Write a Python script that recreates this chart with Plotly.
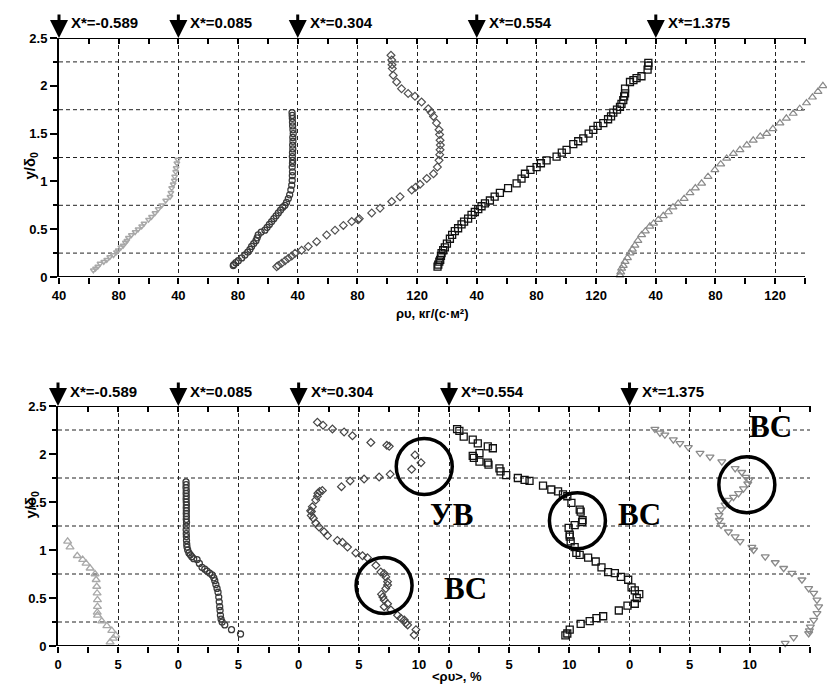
import plotly.graph_objects as go

# ---------------- data ----------------
X_STAR = ["-0.589", "0.085", "0.304", "0.554", "1.375"]

# top panel: rho*u, kg/(s*m^2) ; offsets of each profile on the shared axis
TOP_OFF = [0, 80, 160, 280, 400]
TOP_LABELS = [[40, 80], [40, 80], [40, 80, 120], [40, 80, 120], [40, 80, 120]]
TOP_END = 500          # end of the drawn axis (shared-axis units)
# bottom panel: <rho*u>, %
BOT_OFF = [0, 10, 20, 32.5, 47.5]
BOT_LABELS = [[0, 5], [0, 5], [0, 5, 10], [0, 5, 10], [0, 5, 10]]
BOT_END = 62.5
Y_GRID = [0.25, 0.75, 1.25, 1.75, 2.25]

# ---- top series ----
y1t = [0.07, 0.09, 0.11, 0.14, 0.16, 0.18, 0.21, 0.23, 0.26, 0.28, 0.31, 0.33, 0.36, 0.38, 0.41, 0.44, 0.47,
       0.50, 0.53, 0.56, 0.60, 0.63, 0.67, 0.71, 0.75, 0.80, 0.84, 0.88, 0.93, 0.97, 1.01, 1.05, 1.10, 1.14,
       1.19, 1.23]
v1t = [63, 64.5, 66, 67.5, 70, 72, 74, 76.5, 78.5, 79.7, 81.5, 83, 84.5, 85.5, 86.5, 88.5, 91, 93, 95.4, 97,
       100, 102, 104.3, 106.5, 108.8, 111.5, 114.4, 115, 115.5, 116.5, 117.3, 117.5, 118.2, 118.5, 119, 119.5]

y2t = [0.12, 0.13, 0.15, 0.17, 0.20, 0.23, 0.26, 0.29, 0.32, 0.35, 0.38, 0.41, 0.44, 0.47, 0.49, 0.52, 0.55,
       0.58, 0.61, 0.64, 0.67, 0.70, 0.73, 0.75, 0.78, 0.82, 0.86, 0.91, 0.96, 1.01, 1.06, 1.10, 1.15, 1.19,
       1.22, 1.26, 1.30, 1.34, 1.38, 1.42, 1.46, 1.50, 1.54, 1.58, 1.62, 1.66, 1.69, 1.72]
v2t = [76.8, 77.2, 78.5, 80.2, 82.5, 84.6, 86.5, 88, 89.1, 90.5, 92, 92.8, 93.5, 95.5, 98, 99.5, 101, 102.5,
       104, 105.5, 107, 108.5, 110, 111.4, 112.5, 113.7, 114.6, 115.4, 116, 116.3, 116.4, 116.5, 116.3, 116.5,
       116.6, 116.4, 116.5, 116.7, 116.6, 116.8, 116.7, 117, 116.8, 116.6, 116.5, 116.4, 116.3, 116.2]

y3t = [0.108, 0.12, 0.143, 0.17, 0.195, 0.22, 0.248, 0.28, 0.32, 0.37, 0.44, 0.49, 0.54, 0.58, 0.60, 0.61,
       0.67, 0.72, 0.79, 0.84, 0.91, 0.94, 0.97, 1.03, 1.08, 1.15, 1.22, 1.28, 1.33, 1.38, 1.43, 1.49, 1.54,
       1.61, 1.68, 1.72, 1.76, 1.83, 1.89, 1.92, 1.97, 2.04, 2.11, 2.18, 2.22, 2.27, 2.32]
v3t = [25.9, 27, 29.2, 31.5, 33.7, 36, 38.2, 42.6, 47.1, 52.7, 59.4, 65, 70.6, 76.2, 80.5, 81.3, 89.6, 95.2,
       103, 108.6, 116.4, 119, 122, 126.5, 131, 133.6, 134.7, 135.2, 135.4, 135.6, 135.4, 135.1, 134.7, 133,
       131, 129.5, 127.5, 123, 118.6, 114, 109.6, 106.3, 104, 103.4, 103.2, 103, 102.5]

y4t = [0.108, 0.13, 0.16, 0.18, 0.22, 0.25, 0.28, 0.31, 0.35, 0.40, 0.44, 0.48, 0.51, 0.55, 0.58, 0.61, 0.65,
       0.68, 0.71, 0.74, 0.77, 0.80, 0.84, 0.88, 0.93, 0.98, 1.03, 1.08, 1.12, 1.15, 1.19, 1.22, 1.26, 1.30,
       1.33, 1.39, 1.42, 1.45, 1.50, 1.54, 1.58, 1.61, 1.65, 1.68, 1.72, 1.75, 1.78, 1.81, 1.85, 1.89, 1.92,
       1.97, 2.04, 2.06, 2.08, 2.10, 2.17, 2.21, 2.24]
v4t = [13.7, 14.2, 14.9, 15.5, 16, 16.4, 17.5, 18.6, 20, 22, 23.5, 25.3, 27.5, 29.8, 31.5, 34.2, 36.5, 38.7,
       41, 43.2, 45.5, 48.8, 52, 55.5, 61, 66.7, 70, 72.3, 76, 80.1, 83, 86.8, 93.5, 97, 100.2, 104.7, 108,
       111.4, 115, 118.1, 121, 124.8, 128, 130, 131.5, 134, 136, 137, 138.2, 138.8, 139.4, 139.4, 142.7, 145,
       147.1, 150.4, 154.5, 155, 155]

y5t = [0.02, 0.05, 0.09, 0.12, 0.16, 0.20, 0.25, 0.29, 0.33, 0.38, 0.44, 0.48, 0.53, 0.56, 0.60, 0.64, 0.68,
       0.73, 0.77, 0.82, 0.88, 0.93, 0.98, 1.05, 1.12, 1.18, 1.24, 1.29, 1.33, 1.38, 1.43, 1.47, 1.50, 1.55,
       1.61, 1.66, 1.71, 1.76, 1.82, 1.88, 1.94, 2.00, 2.06]
v5t = [16, 16.5, 17.1, 18.2, 19.4, 21, 22.7, 24.3, 26, 28, 30.5, 33, 36, 38.5, 41.7, 45, 48.4, 51.5, 55, 59,
       62.9, 66.5, 70.7, 75, 79.6, 83.5, 87.5, 92, 96.4, 101, 105.3, 110, 114.3, 118.5, 123.2, 127.5, 132.1,
       136.5, 141, 145, 148.7, 152, 155]

# ---- bottom series ----
y1b = [1.09, 1.03, 0.94, 0.90, 0.86, 0.81, 0.75, 0.69, 0.62, 0.55, 0.48, 0.41, 0.35, 0.32, 0.26, 0.21, 0.16,
       0.11, 0.08, 0.04]
v1b = [0.8, 1.0, 1.6, 2.05, 2.33, 2.67, 3.08, 3.17, 3.22, 3.25, 3.28, 3.28, 3.26, 3.28, 3.64, 4.06, 4.47,
       4.8, 4.6, 4.33]

y2b = [1.71, 1.68, 1.65, 1.62, 1.59, 1.56, 1.53, 1.50, 1.47, 1.44, 1.41, 1.38, 1.35, 1.32, 1.29, 1.25, 1.21,
       1.17, 1.14, 1.10, 1.06, 1.03, 1.00, 0.97, 0.95, 0.93, 0.91, 0.90, 0.86, 0.82, 0.80, 0.78, 0.76, 0.74,
       0.71, 0.68, 0.64, 0.60, 0.56, 0.51, 0.46, 0.41, 0.37, 0.32, 0.28, 0.25, 0.22, 0.17, 0.125]
v2b = [0.64, 0.65, 0.64, 0.66, 0.65, 0.66, 0.65, 0.66, 0.67, 0.66, 0.67, 0.66, 0.67, 0.66, 0.68, 0.66, 0.65,
       0.66, 0.67, 0.68, 0.70, 0.72, 0.78, 0.88, 1.0, 1.12, 1.28, 1.56, 1.75, 1.97, 2.2, 2.39, 2.6, 2.81,
       2.95, 3.03, 3.12, 3.22, 3.3, 3.36, 3.4, 3.44, 3.47, 3.5, 3.55, 3.64, 3.86, 4.42, 5.17]

y3b = [0.115, 0.17, 0.22, 0.24, 0.27, 0.29, 0.32, 0.375, 0.41, 0.44, 0.48, 0.51, 0.54, 0.60, 0.635, 0.67,
       0.72, 0.755, 0.77, 0.84, 0.92, 0.94, 0.97, 1.03, 1.08, 1.10, 1.15, 1.19, 1.24, 1.28, 1.33, 1.36, 1.40,
       1.41, 1.45, 1.52, 1.56, 1.59, 1.61, 1.62, 1.66, 1.72, 1.74, 1.76, 1.79, 1.84, 1.91, 1.99, 2.08, 2.09,
       2.12, 2.19, 2.23, 2.26, 2.30, 2.33]
v3b = [9.6, 9.75, 9.06, 8.9, 8.78, 8.5, 8.22, 7.67, 7.11, 7.39, 7.11, 7.0, 6.89, 7.25, 7.39, 7.39, 7.25, 7.1,
       6.83, 6.42, 5.72, 5.31, 4.75, 4.06, 3.64, 3.22, 2.39, 2.11, 1.69, 1.42, 1.22, 1.05, 1.06, 1.0, 1.14,
       1.42, 1.56, 1.6, 1.75, 1.97, 3.56, 4.28, 5.44, 6.69, 7.61, 9.39, 10.17, 9.67, 7.53, 7.33, 6.0, 4.47,
       3.78, 2.81, 2.03, 1.56]

y4b = [0.11, 0.13, 0.17, 0.23, 0.26, 0.29, 0.31, 0.37, 0.42, 0.44, 0.50, 0.54, 0.58, 0.61, 0.69, 0.72, 0.76,
       0.77, 0.82, 0.88, 0.92, 0.95, 0.97, 1.03, 1.09, 1.14, 1.16, 1.23, 1.26, 1.29, 1.31, 1.40, 1.42, 1.49,
       1.56, 1.58, 1.61, 1.63, 1.67, 1.72, 1.73, 1.75, 1.78, 1.82, 1.85, 1.89, 1.91, 1.92, 1.96, 1.98, 2.01,
       2.06, 2.08, 2.11, 2.15, 2.18, 2.24, 2.26]
v4b = [9.67, 9.83, 10.03, 10.94, 11.69, 12.25, 12.81, 14.11, 14.83, 15.44, 15.6, 15.81, 15.44, 15.17, 14.89,
       14.28, 13.78, 13.22, 12.67, 12.19, 11.56, 10.86, 10.58, 10.44, 10.11, 10.03, 10.03, 9.94, 10.44, 11.06,
       11.1, 10.94, 10.86, 10.17, 9.83, 9.47, 9.06, 8.5, 7.81, 6.69, 6.28, 5.72, 4.75, 4.28, 4.19, 3.28, 3.22,
       2.53, 2.06, 1.97, 2.53, 3.64, 3.22, 2.39, 1.97, 1.22, 0.86, 0.67]

y5b = [0.03, 0.09, 0.13, 0.16, 0.20, 0.27, 0.34, 0.41, 0.48, 0.55, 0.60, 0.69, 0.76, 0.81, 0.87, 0.93, 1.00,
       1.03, 1.09, 1.14, 1.19, 1.26, 1.31, 1.36, 1.42, 1.47, 1.52, 1.55, 1.59, 1.64, 1.69, 1.73, 1.76, 1.81,
       1.85, 1.92, 1.97, 2.01, 2.07, 2.11, 2.15, 2.20, 2.22, 2.26]
v5b = [12.94, 13.64, 14.89, 14.95, 15.03, 15.31, 15.58, 15.72, 15.58, 15.31, 14.89, 14.33, 13.5, 12.81, 12.11,
       11.28, 10.31, 10.17, 9.19, 8.78, 8.22, 7.61, 7.47, 7.44, 7.61, 7.94, 8.22, 8.64, 9.06, 9.47, 9.83, 9.94,
       9.67, 9.33, 8.78, 7.67, 6.69, 5.86, 4.89, 4.19, 3.64, 2.94, 2.53, 2.11]

# circled regions (bottom panel): profile index, value, y
CIRCLES = [(2, 10.44, 1.87), (2, 7.1, 0.63), (3, 10.67, 1.305), (4, 9.75, 1.68)]
# text labels: profile index, value, y, text
LABELS = [(3, 0.17, 1.365, "УВ"), (3, 15.83, 1.365, "ВС"), (3, 1.33, 0.60, "ВС"), (4, 11.75, 2.29, "ВС")]

# ---------------- helpers ----------------
def gt(i, vals):
    return [v - 40 + TOP_OFF[i] for v in vals]

def gb(i, vals):
    return [v + BOT_OFF[i] for v in vals]

top_tickvals, top_ticktext = [], []
for i, labs in enumerate(TOP_LABELS):
    for l in labs:
        top_tickvals.append(l - 40 + TOP_OFF[i]); top_ticktext.append(str(l))
bot_tickvals, bot_ticktext = [], []
for i, labs in enumerate(BOT_LABELS):
    for l in labs:
        bot_tickvals.append(l + BOT_OFF[i]); bot_ticktext.append(str(l))

FONT = "Liberation Sans"
TICKFONT = dict(family=FONT, size=13, color="black", weight="bold")
DASH = "4px,3px"
GRIDCOL = "#222"

top_style = [
    dict(symbol="triangle-down-open", size=5, color="#a8a8a8", line=dict(width=1.5, color="#a8a8a8")),
    dict(symbol="circle-open", size=6, color="#3a3a3a", line=dict(width=1.3, color="#3a3a3a")),
    dict(symbol="diamond-open", size=6, color="#505050", line=dict(width=1.2, color="#505050")),
    dict(symbol="square-open", size=7, color="#111", line=dict(width=1.3, color="#111")),
    dict(symbol="triangle-up-open", size=7, color="#8a8a8a", line=dict(width=1.2, color="#8a8a8a")),
]
bot_style = [
    dict(symbol="triangle-up-open", size=7, color="#a8a8a8", line=dict(width=1.3, color="#a8a8a8")),
    dict(symbol="circle-open", size=6, color="#3a3a3a", line=dict(width=1.3, color="#3a3a3a")),
    dict(symbol="diamond-open", size=6, color="#454545", line=dict(width=1.2, color="#454545")),
    dict(symbol="square-open", size=7, color="#111", line=dict(width=1.3, color="#111")),
    dict(symbol="triangle-down-open", size=7, color="#8a8a8a", line=dict(width=1.3, color="#8a8a8a")),
]

fig = go.Figure()
top_data = [(v1t, y1t), (v2t, y2t), (v3t, y3t), (v4t, y4t), (v5t, y5t)]
bot_data = [(v1b, y1b), (v2b, y2b), (v3b, y3b), (v4b, y4b), (v5b, y5b)]
for i, (v, y) in enumerate(top_data):
    fig.add_trace(go.Scatter(x=gt(i, v), y=y, mode="markers", marker=top_style[i], cliponaxis=False,
                             xaxis="x", yaxis="y", showlegend=False, hoverinfo="skip"))
for i, (v, y) in enumerate(bot_data):
    fig.add_trace(go.Scatter(x=gb(i, v), y=y, mode="markers", marker=bot_style[i], cliponaxis=False,
                             xaxis="x2", yaxis="y2", showlegend=False, hoverinfo="skip"))
# carriers for the top-edge tick axes
fig.add_trace(go.Scatter(x=[0], y=[-5], mode="markers", marker=dict(opacity=0), xaxis="x3", yaxis="y",
                         showlegend=False, hoverinfo="skip"))
fig.add_trace(go.Scatter(x=[0], y=[-5], mode="markers", marker=dict(opacity=0), xaxis="x4", yaxis="y2",
                         showlegend=False, hoverinfo="skip"))

W, H = 827, 695
TOP_L, TOP_R, TOP_T, TOP_B = 59, 805, 38, 277
BOT_L, BOT_R, BOT_T, BOT_B = 58, 810, 406, 646
# x domain extends to the page edge so that the outermost profile is not cut;
# the drawn axis stops at TOP_R / BOT_R
TOP_X = [TOP_L / W, 1.0]
BOT_X = [BOT_L / W, 1.0]
TOP_Y = [1 - TOP_B / H, 1 - TOP_T / H]
BOT_Y = [1 - BOT_B / H, 1 - BOT_T / H]
TOP_RANGE = [0, TOP_END * (W - TOP_L) / (TOP_R - TOP_L)]
BOT_RANGE = [0, BOT_END * (W - BOT_L) / (BOT_R - BOT_L)]

def xax(domain, anchor, rng, tv, tt, minor_dt, end):
    return dict(domain=domain, anchor=anchor, range=rng, tickmode="array", tickvals=tv, ticktext=tt,
                ticks="outside", ticklen=6, tickwidth=1.5, tickcolor="black", showline=False,
                showgrid=True, gridcolor=GRIDCOL, gridwidth=1, griddash=DASH, zeroline=False,
                tickfont=TICKFONT, automargin=False,
                minor=dict(tickmode="array", tickvals=[k * minor_dt for k in range(int(round(end / minor_dt)) + 1)],
                           ticks="outside", ticklen=6, tickwidth=1.5, tickcolor="black", showgrid=False))

def xtop(over, anchor, rng, dt, end):
    return dict(overlaying=over, anchor=anchor, side="top", range=rng, tickmode="array",
                tickvals=[k * dt for k in range(int(round(end / dt)) + 1)],
                ticks="inside", ticklen=6, tickwidth=1.5, tickcolor="black", showticklabels=False,
                showline=False, showgrid=False, zeroline=False, automargin=False)

def yax(domain, anchor):
    return dict(domain=domain, anchor=anchor, range=[0, 2.5], tickmode="linear", tick0=0, dtick=0.5,
                ticks="outside", ticklen=7, tickwidth=1.5, tickcolor="black", showline=True,
                linecolor="black", linewidth=2, showgrid=False, zeroline=False, tickfont=TICKFONT,
                automargin=False,
                minor=dict(tick0=0.25, dtick=0.5, ticks="outside", ticklen=4, tickwidth=1.5,
                           tickcolor="black", showgrid=False))

annotations = []
shapes = []
# frame lines and horizontal dashed grid, stopped at the axis end
for (l, r, yr) in [(TOP_L, TOP_R, "y"), (BOT_L, BOT_R, "y2")]:
    for gy in Y_GRID:
        shapes.append(dict(type="line", xref="paper", yref=yr, x0=l / W, x1=r / W, y0=gy, y1=gy,
                           layer="below", line=dict(color=GRIDCOL, width=1, dash=DASH)))
    for yy in (0, 2.5):
        shapes.append(dict(type="line", xref="paper", yref=yr, x0=l / W - 0.0006, x1=r / W, y0=yy, y1=yy,
                           layer="above", line=dict(color="black", width=2)))

for i, xs in enumerate(X_STAR):
    for xr, gx, ytip, ytxt in [("x", TOP_OFF[i], TOP_Y[1], 1 - 23 / H),
                               ("x2", BOT_OFF[i], BOT_Y[1], 1 - 391 / H)]:
        annotations.append(dict(x=gx, y=ytip, xref=xr, yref="paper", ax=0, ay=-25, text="",
                                showarrow=True, arrowhead=2, arrowsize=1.2, arrowwidth=3,
                                arrowcolor="black", standoff=0))
        annotations.append(dict(x=gx, y=ytxt, xref=xr, yref="paper", xshift=10, xanchor="left",
                                yanchor="middle", text="<b>X*=" + xs + "</b>", showarrow=False,
                                font=dict(family=FONT, size=15, color="black")))

for (i, v, y) in CIRCLES:
    shapes.append(dict(type="circle", xref="x2", yref="y2", xsizemode="pixel", ysizemode="pixel",
                       xanchor=v + BOT_OFF[i], yanchor=y, x0=-28, x1=28, y0=-28, y1=28,
                       line=dict(color="black", width=3.5)))
for (i, v, y, t) in LABELS:
    annotations.append(dict(x=v + BOT_OFF[i], y=y, xref="x2", yref="y2", text="<b>" + t + "</b>",
                            showarrow=False, font=dict(family="Liberation Serif", size=31, color="black")))

annotations += [
    dict(x=18 / W, y=1 - 150 / H, xref="paper", yref="paper", text="<b>y/δ<sub>0</sub></b>",
         textangle=-90, showarrow=False, font=dict(family=FONT, size=15, color="black")),
    dict(x=19 / W, y=1 - 521 / H, xref="paper", yref="paper", text="<b>y/δ<sub>0</sub></b>",
         textangle=-90, showarrow=False, font=dict(family=FONT, size=15, color="black")),
    dict(x=432 / W, y=1 - 313 / H, xref="paper", yref="paper", text="<b>ρυ, кг/(с·м²)</b>",
         showarrow=False, font=dict(family=FONT, size=13, color="black")),
    dict(x=457 / W, y=1 - 686 / H, xref="paper", yref="paper", text="<b>&lt;ρυ&gt;, %</b>",
         showarrow=False, font=dict(family=FONT, size=13, color="black")),
]

fig.update_layout(
    template="none",
    width=W, height=H, margin=dict(l=0, r=0, t=0, b=0, pad=0), autosize=False,
    paper_bgcolor="white", plot_bgcolor="white",
    xaxis=xax(TOP_X, "y", TOP_RANGE, top_tickvals, top_ticktext, 20, TOP_END),
    xaxis2=xax(BOT_X, "y2", BOT_RANGE, bot_tickvals, bot_ticktext, 2.5, BOT_END),
    xaxis3=xtop("x", "y", TOP_RANGE, 20, TOP_END),
    xaxis4=xtop("x2", "y2", BOT_RANGE, 2.5, BOT_END),
    yaxis=yax(TOP_Y, "x"),
    yaxis2=yax(BOT_Y, "x2"),
    annotations=annotations, shapes=shapes,
)

fig.write_html("out.html", config={"displayModeBar": False},
               post_script="document.body.style.margin='0px';document.documentElement.style.margin='0px';")
